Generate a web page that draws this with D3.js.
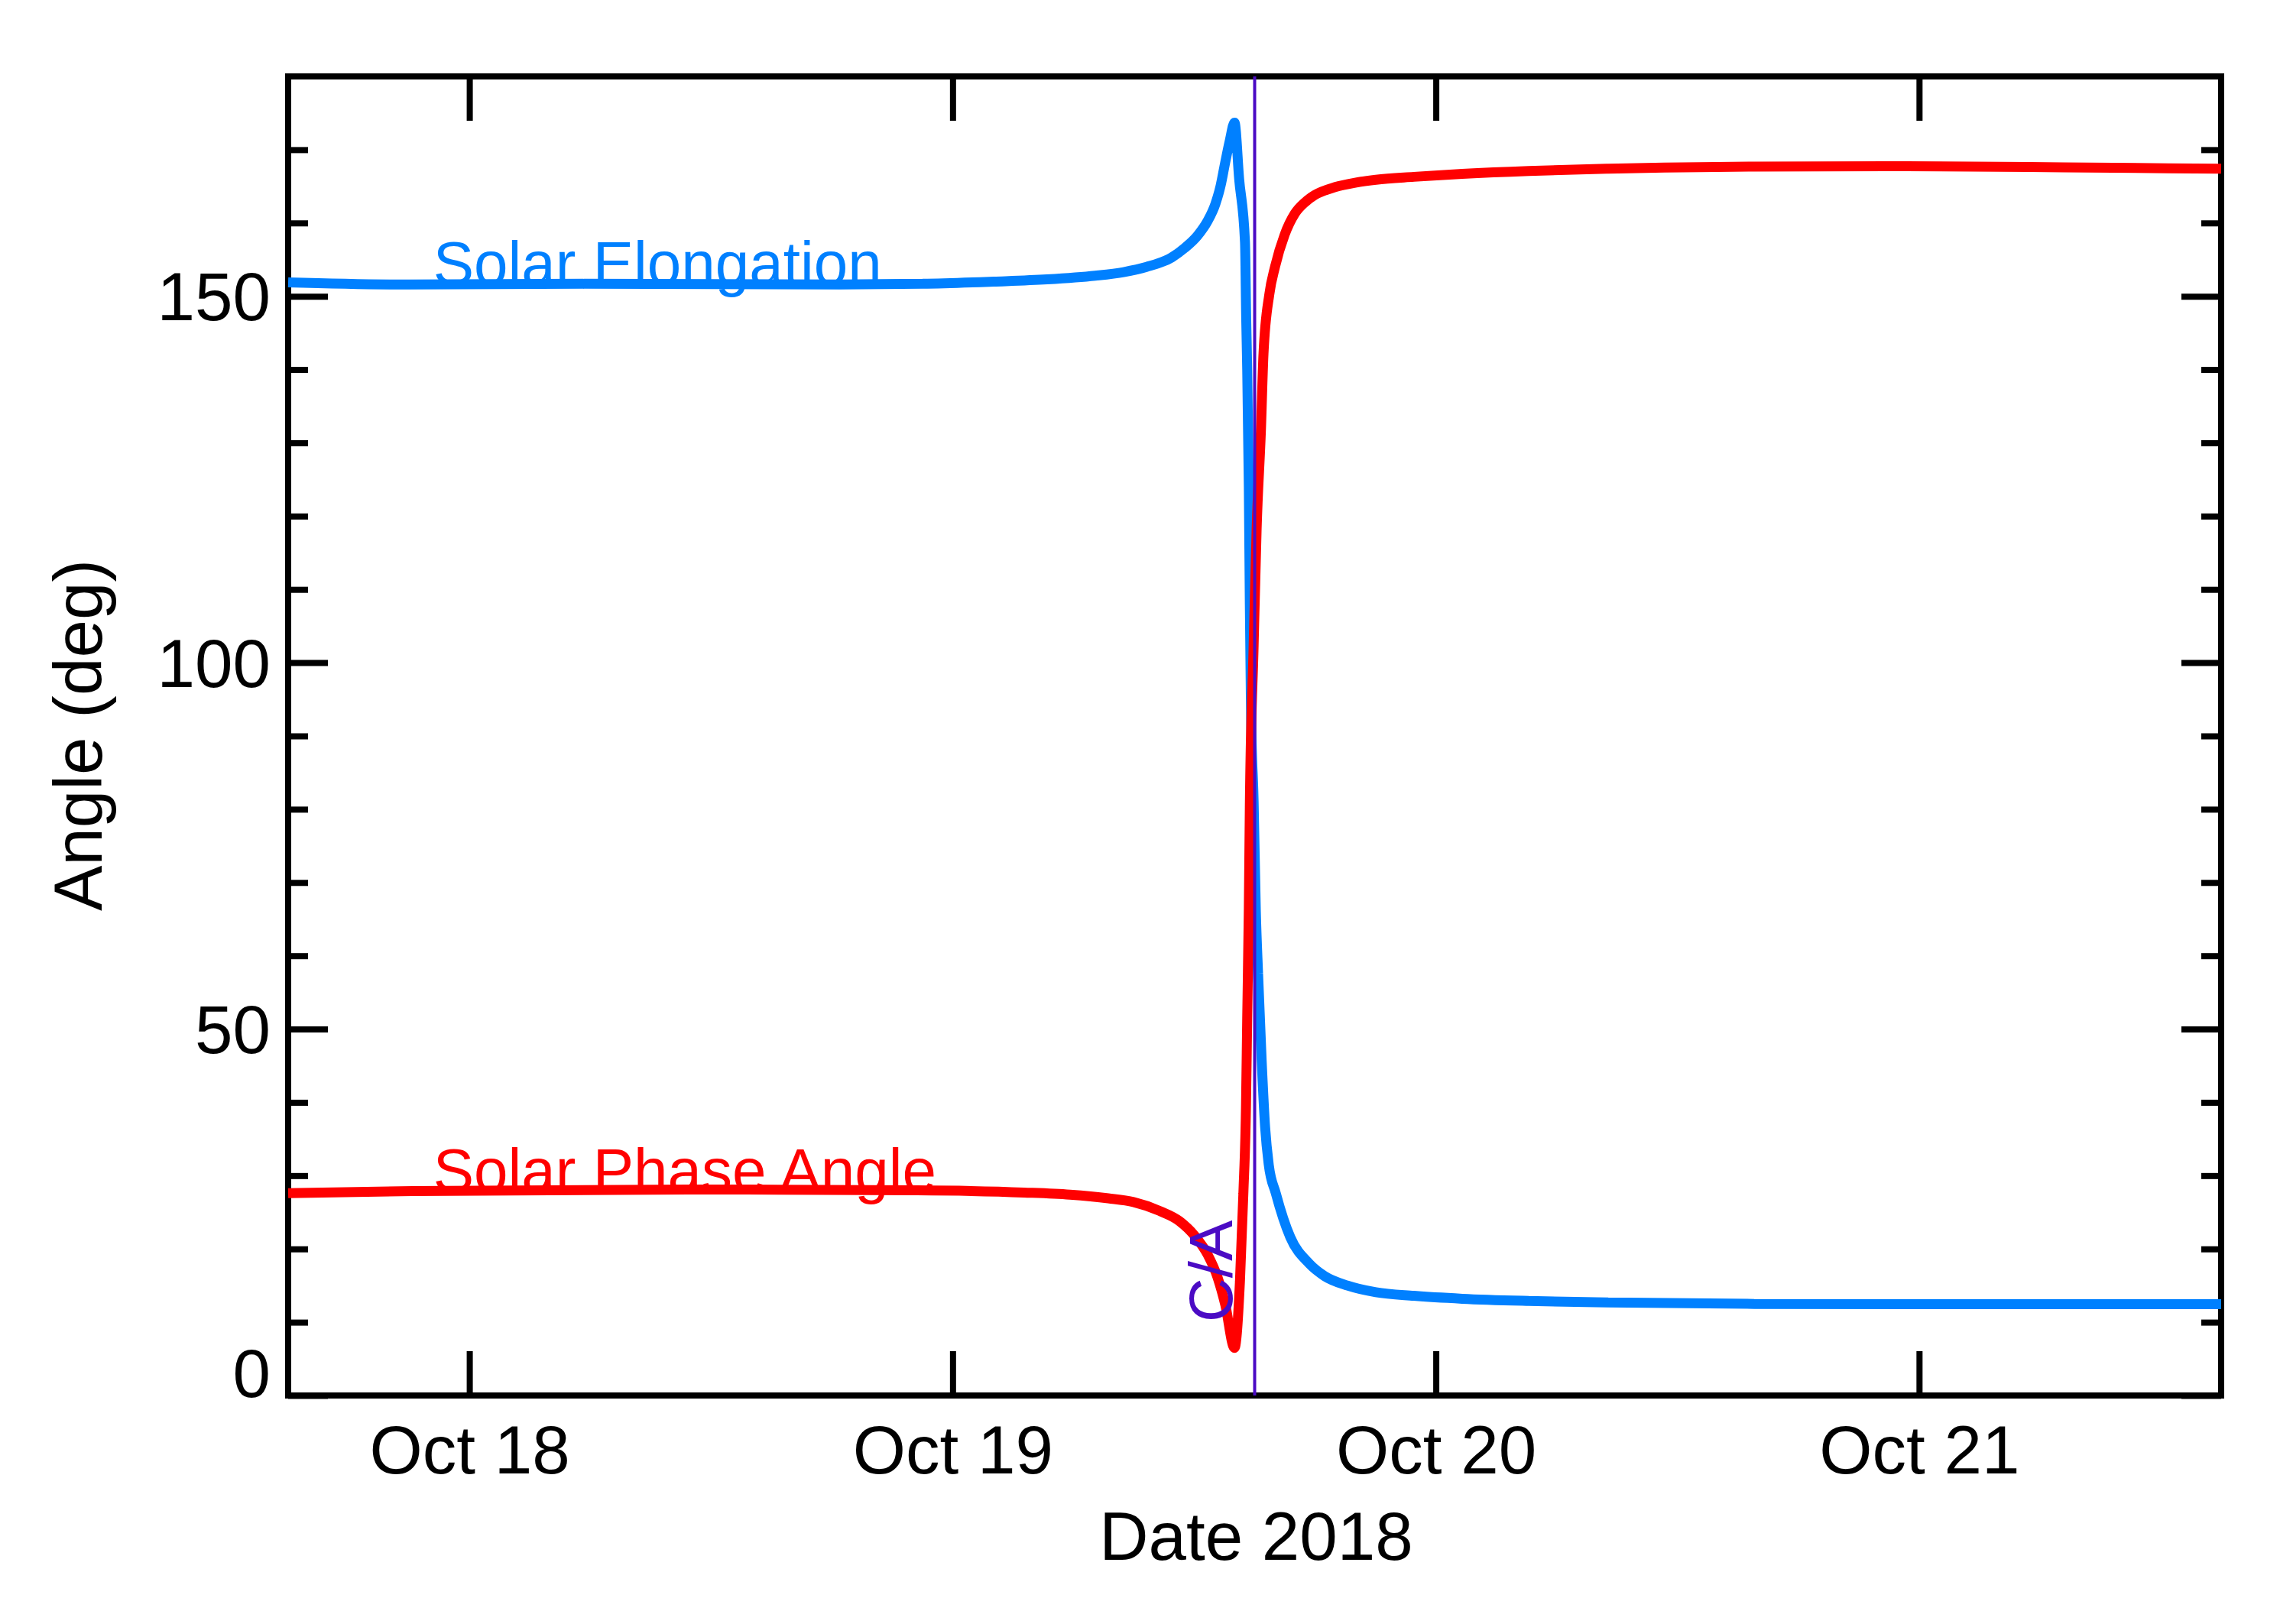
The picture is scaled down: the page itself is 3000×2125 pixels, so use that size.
<!DOCTYPE html>
<html><head><meta charset="utf-8">
<script src="https://cdn.jsdelivr.net/npm/d3@7"></script>
<style>
body{margin:0;background:#fff}
text{font-family:"Liberation Sans",Arial,Helvetica,sans-serif}
</style>
</head><body>
<svg id="chart" width="3000" height="2125"></svg>
<script>
// ---- data ----
const startTime = "2018-10-17T15:00:00Z";
const endTime = "2018-10-21T15:00:00Z";
const closeApproach = "2018-10-19T15:00:00Z";

// hours since startTime
const elongHours = [0.0, 6.0, 14.73, 27.44, 31.51, 35.04, 37.69, 40.08, 41.49, 42.63, 43.88, 44.53, 45.17, 45.67, 46.05,
  46.31, 46.54, 46.77, 47.0, 47.23, 47.52, 47.58, 47.63, 47.71, 47.76, 47.82, 47.95, 48.06, 48.17, 48.35,
  48.52, 48.7, 49.05, 49.77, 50.71, 51.47, 52.61, 54.02, 55.91, 58.31, 61.61, 65.56, 72.81, 80.59, 96.0];
const elongDeg = [151.9, 151.6, 151.7, 151.6, 151.7, 152.0, 152.3, 152.8, 153.3, 154.0, 155.3, 156.6, 158.3, 160.3, 162.6,
  165.1, 168.3, 171.3, 173.7, 166.0, 157.4, 147.0, 140.0, 124.0, 108.0, 93.0, 81.0, 66.0, 57.6, 45.6,
  36.6, 31.5, 27.6, 21.6, 18.0, 16.3, 15.0, 14.1, 13.6, 13.2, 12.9, 12.7, 12.5, 12.45, 12.45];

const phaseHours = [0.0, 6.19, 19.85, 31.24, 36.55, 38.83, 40.73, 41.98, 43.27, 44.26, 45.02, 45.67, 46.16, 46.54, 47.0,
  47.27, 47.44, 47.57, 47.63, 47.71, 47.76, 47.95, 48.1, 48.31, 48.44, 48.73, 49.01, 49.49, 50.0, 50.49, 50.98,
  52.0, 52.99, 54.02, 55.91, 58.31, 61.61, 65.56, 72.81, 80.1, 88.18, 96.0];
const phaseDeg = [27.6, 27.9, 28.1, 28.0, 27.7, 27.4, 26.9, 26.4, 25.2, 23.8, 21.8, 19.2, 16.1, 12.4, 6.5,
  15.6, 27.6, 39.5, 51.5, 66.5, 80.3, 102.4, 118.4, 131.6, 142.2, 150.3, 154.0, 158.4, 161.3, 162.8, 163.8,
  164.9, 165.5, 165.9, 166.3, 166.7, 167.1, 167.4, 167.7, 167.75, 167.6, 167.4];

const yMajorTicks = [0, 50, 100, 150];
const yMinorTicks = [10, 20, 30, 40, 60, 70, 80, 90, 110, 120, 130, 140, 160, 170];
const xTickDates = ["2018-10-18T00:00:00Z", "2018-10-19T00:00:00Z", "2018-10-20T00:00:00Z", "2018-10-21T00:00:00Z"];

const seriesLabels = ["Solar Elongation", "Solar Phase Angle"];
const labelHour = 7.2;
const labelDeg = [151.6, 27.8];
const caLabel = "C/A";
const caLabelDeg = 10;
const xTitle = "Date 2018";
const yTitle = "Angle (deg)";

// ---- layout ----
const L = 377, R = 2906, T = 100, B = 1826;
const blue = "#0080ff", red = "#ff0000", purple = "#4b0bc4";
const axisFont = 89, annFont = 80;

const t0 = new Date(startTime).getTime();
const toDate = h => new Date(t0 + h * 3600e3);

const x = d3.scaleUtc().domain([new Date(startTime), new Date(endTime)]).range([L, R]);
const y = d3.scaleLinear().domain([0, 180]).range([B, T]);

const svg = d3.select("#chart");
svg.append("rect").attr("width", 3000).attr("height", 2125).attr("fill", "#fff");

const xt = xTickDates.map(d => new Date(d));

function styleAxis(g) {
  g.select(".domain").remove();
  g.selectAll(".tick line").attr("stroke", "#000").attr("stroke-width", 8);
}

// bottom axis
const gB = svg.append("g").attr("transform", `translate(0,${B})`)
  .call(d3.axisBottom(x).tickValues(xt).tickSize(-58).tickFormat(d3.utcFormat("%b %d")));
styleAxis(gB);
gB.selectAll(".tick text").attr("y", 102).attr("dy", 0)
  .attr("font-size", axisFont).attr("fill", "#000").attr("font-family", "Liberation Sans, Arial, sans-serif");

// top axis
const gT = svg.append("g").attr("transform", `translate(0,${T})`)
  .call(d3.axisTop(x).tickValues(xt).tickSize(-58).tickFormat(""));
styleAxis(gT);

// left axis major/minor
const gL = svg.append("g").attr("transform", `translate(${L},0)`)
  .call(d3.axisLeft(y).tickValues(yMajorTicks).tickSize(-52).tickFormat(d3.format("d")));
styleAxis(gL);
gL.selectAll(".tick text").attr("x", -23).attr("dy", 0)
  .attr("y", d => d === 0 ? 1 : 31)
  .attr("text-anchor", "end")
  .attr("font-size", axisFont).attr("fill", "#000").attr("font-family", "Liberation Sans, Arial, sans-serif");
const gLm = svg.append("g").attr("transform", `translate(${L},0)`)
  .call(d3.axisLeft(y).tickValues(yMinorTicks).tickSize(-26).tickFormat(""));
styleAxis(gLm);

// right axis major/minor
const gR = svg.append("g").attr("transform", `translate(${R},0)`)
  .call(d3.axisRight(y).tickValues(yMajorTicks).tickSize(-52).tickFormat(""));
styleAxis(gR);
const gRm = svg.append("g").attr("transform", `translate(${R},0)`)
  .call(d3.axisRight(y).tickValues(yMinorTicks).tickSize(-26).tickFormat(""));
styleAxis(gRm);

// frame
svg.append("rect").attr("x", L).attr("y", T).attr("width", R - L).attr("height", B - T)
  .attr("fill", "none").attr("stroke", "#000").attr("stroke-width", 8).attr("stroke-linejoin", "miter");

// titles
svg.append("text").attr("x", (L + R) / 2 + 2).attr("y", 2041).attr("text-anchor", "middle")
  .attr("font-size", axisFont).text(xTitle);
svg.append("text").attr("transform", "translate(133,962) rotate(-90)").attr("text-anchor", "middle")
  .attr("font-size", axisFont).text(yTitle);

// curves
const line = d3.line().x(d => x(d.t)).y(d => y(d.v)).curve(d3.curveMonotoneX);
const elong = elongHours.map((h, i) => ({ t: toDate(h), v: elongDeg[i] }));
const phase = phaseHours.map((h, i) => ({ t: toDate(h), v: phaseDeg[i] }));

svg.append("path").datum(elong).attr("d", line).attr("fill", "none")
  .attr("stroke", blue).attr("stroke-width", 13).attr("stroke-linejoin", "bevel");
svg.append("path").datum(phase).attr("d", line).attr("fill", "none")
  .attr("stroke", red).attr("stroke-width", 13).attr("stroke-linejoin", "bevel");

// labels
svg.append("text").attr("x", x(toDate(labelHour))).attr("y", y(labelDeg[0]))
  .attr("font-size", annFont).attr("fill", blue).text(seriesLabels[0]);
svg.append("text").attr("x", x(toDate(labelHour))).attr("y", y(labelDeg[1]))
  .attr("font-size", annFont).attr("fill", red).text(seriesLabels[1]);

// close approach
const xCA = x(new Date(closeApproach));
svg.append("line").attr("x1", xCA).attr("x2", xCA).attr("y1", T).attr("y2", B)
  .attr("stroke", purple).attr("stroke-width", 4);
svg.append("text").attr("transform", `translate(${xCA - 30},${y(caLabelDeg)}) rotate(-90)`)
  .attr("font-size", annFont).attr("fill", purple).text(caLabel);
</script>
</body></html>
